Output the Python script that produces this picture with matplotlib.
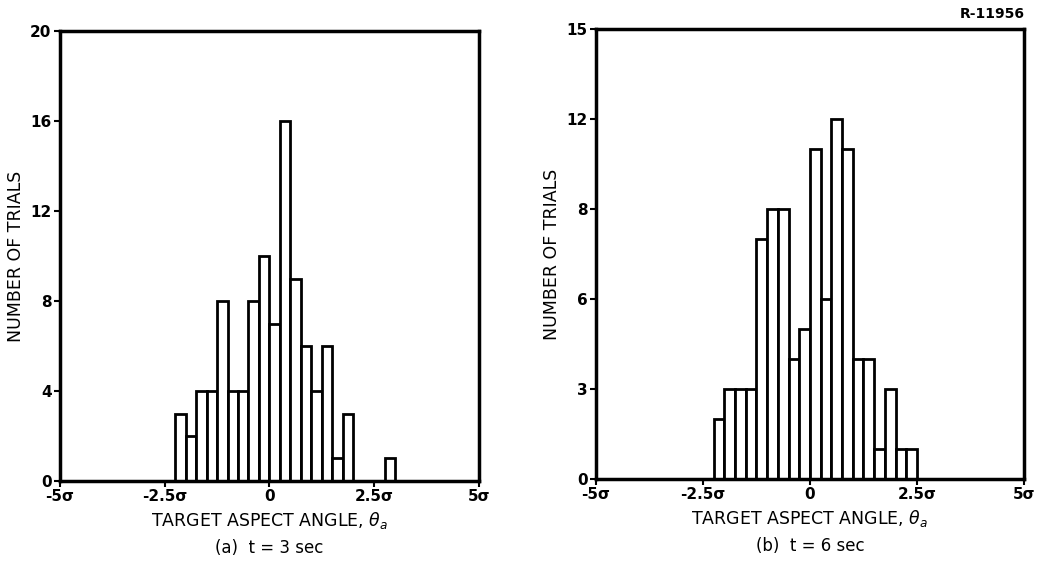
import numpy as np
import matplotlib.pyplot as plt

# bin width is a quarter sigma
bin_w = 0.25

# panel (a) t = 3 sec
left_a = [-2.25, -2.0, -1.75, -1.5, -1.25, -1.0, -0.75, -0.5, -0.25,
          0.0, 0.25, 0.5, 0.75, 1.0, 1.25, 1.5, 1.75, 2.75]
count_a = [3, 2, 4, 4, 8, 4, 4, 8, 10,
           7, 16, 9, 6, 4, 6, 1, 3, 1]

# panel (b) t = 6 sec
left_b = [-2.25, -2.0, -1.75, -1.5, -1.25, -1.0, -0.75, -0.5, -0.25,
          0.0, 0.25, 0.5, 0.75, 1.0, 1.25, 1.5, 1.75, 2.0, 2.25]
count_b = [2, 3, 3, 3, 8, 9, 9, 4, 5,
           11, 6, 12, 11, 4, 4, 1, 3, 1, 1]

xticks = [-5, -2.5, 0, 2.5, 5]
xticklabels = ['-5σ', '-2.5σ', '0', '2.5σ', '5σ']
yticks_a = [0, 4, 8, 12, 16, 20]
yticks_b = [0, 3, 6, 9, 12, 15]
yticklabels_b = ['0', '3', '6', '8', '12', '15']

plt.rcParams['font.family'] = ['DejaVu Sans']

fig = plt.figure(figsize=(10.5, 5.73), dpi=100)
ax1 = fig.add_axes([0.0571, 0.1606, 0.399, 0.785])
ax2 = fig.add_axes([0.5676, 0.164, 0.4076, 0.785])


def draw(ax, left, count, yticks, ylabels, ymax, caption):
    ax.bar(left, count, width=bin_w, align='edge', color='white',
           edgecolor='black', linewidth=2)
    ax.set_xlim(-5, 5)
    ax.set_ylim(0, ymax)
    ax.set_xticks(xticks)
    ax.set_xticklabels(xticklabels, fontsize=11, fontweight='bold')
    ax.set_yticks(yticks)
    ax.set_yticklabels(ylabels, fontsize=11, fontweight='bold')
    ax.tick_params(direction='out', length=4, width=1.5, pad=2)
    for s in ax.spines.values():
        s.set_linewidth(2.5)
    ax.set_ylabel('NUMBER OF TRIALS', fontsize=12.5, labelpad=4)
    ax.set_xlabel(r'TARGET ASPECT ANGLE, $\theta_a$', fontsize=12.5)
    ax.xaxis.set_label_coords(0.5, -0.065)
    ax.text(0.5, -0.15, caption, transform=ax.transAxes, ha='center',
            va='center', fontsize=12)


draw(ax1, left_a, count_a, yticks_a, [str(v) for v in yticks_a], 20,
     '(a)  t = 3 sec')
draw(ax2, left_b, count_b, yticks_b, yticklabels_b, 15, '(b)  t = 6 sec')

fig.text(0.945, 0.975, 'R-11956', ha='center', va='center', fontsize=10,
         fontweight='bold')

fig.savefig('out.png', dpi=100)
